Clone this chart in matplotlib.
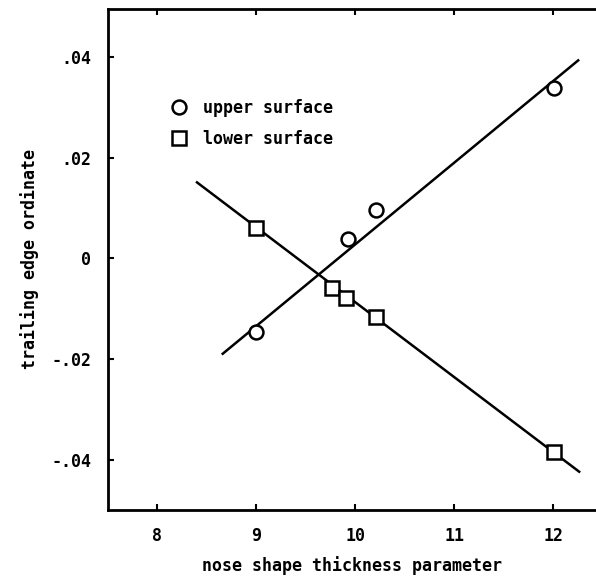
import matplotlib
matplotlib.use('Agg')
import matplotlib.pyplot as plt

# upper surface points (circles)
x_upper = [9.0, 9.93, 10.21, 12.01]
y_upper = [-0.0145, 0.0038, 0.0097, 0.0338]
# lower surface points (squares)
x_lower = [9.0, 9.76, 9.91, 10.21, 12.01]
y_lower = [0.0060, -0.0058, -0.0079, -0.0117, -0.0383]

# fitted lines (end points)
x_fit_upper = [8.66, 12.25]
y_fit_upper = [-0.0189, 0.0393]
x_fit_lower = [8.40, 12.26]
y_fit_lower = [0.0151, -0.0423]

x_ticks = [8, 9, 10, 11, 12]
y_ticks = [-0.04, -0.02, 0.0, 0.02, 0.04]
y_tick_labels = ['-.04', '-.02', '0', '.02', '.04']

font = dict(family='DejaVu Sans Mono', weight='bold', size=12)

fig = plt.figure(figsize=(5.96, 5.83), dpi=100)
ax = fig.add_axes([0.181, 0.1252, 0.819, 0.8594])

ax.plot(x_fit_upper, y_fit_upper, color='black', linewidth=1.8)
ax.plot(x_fit_lower, y_fit_lower, color='black', linewidth=1.8)
ax.plot(x_upper, y_upper, 'o', markersize=10, markerfacecolor='white',
        markeredgecolor='black', markeredgewidth=1.8, label='upper surface')
ax.plot(x_lower, y_lower, 's', markersize=10, markerfacecolor='white',
        markeredgecolor='black', markeredgewidth=1.8, label='lower surface')

ax.set_xlim(7.5, 12.43)
ax.set_ylim(-0.0499, 0.0495)

ax.spines['right'].set_visible(False)
for s in ['left', 'top', 'bottom']:
    ax.spines[s].set_linewidth(2.0)

ax.set_xticks(x_ticks)
ax.set_xticklabels([str(t) for t in x_ticks], fontdict=font)
ax.set_yticks(y_ticks)
ax.set_yticklabels(y_tick_labels, fontdict=font)
ax.tick_params(direction='in', length=4, width=1.5, top=True, pad=12)

ax.set_xlabel('nose shape thickness parameter', fontdict=font, labelpad=8)
ax.set_ylabel('trailing edge ordinate', fontdict=font, labelpad=9)

leg = ax.legend(loc='upper left', bbox_to_anchor=(0.116, 0.834), frameon=False,
                prop=dict(family='DejaVu Sans Mono', weight='bold', size=12),
                handletextpad=0.9, labelspacing=0.8, handlelength=1.0,
                borderaxespad=0)

fig.savefig('out.png', dpi=100)
